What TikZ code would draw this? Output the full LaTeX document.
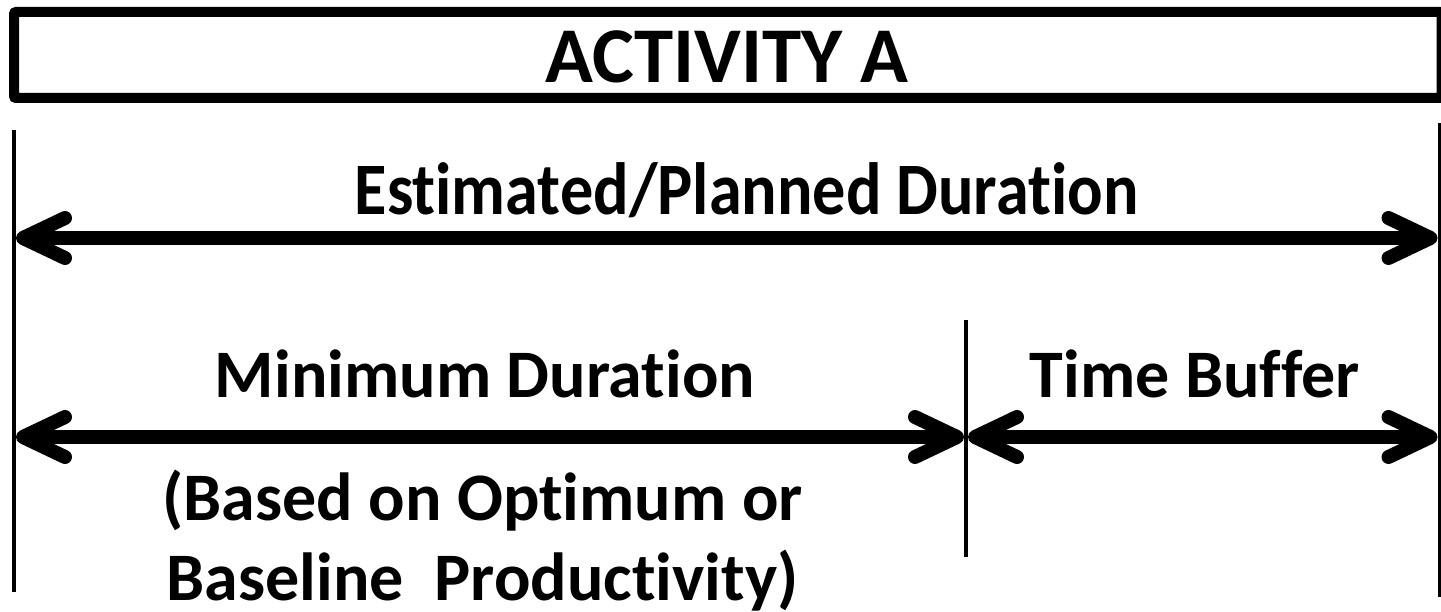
\documentclass[tikz,border=0pt]{standalone}
\usepackage{fontspec}
\usepackage{graphicx}
\setmainfont{Carlito}[Ligatures={NoCommon,NoContextual}, RawFeature={-liga;-clig;-calt;-dlig}]
\usetikzlibrary{arrows.meta}
\begin{document}
\begin{tikzpicture}[x=1pt,y=-1pt,
  framebox/.style={line width=10pt, rounded corners=2pt},
  limit/.style={line width=4pt},
  span/.style={line width=14pt, {Straight Barb[length=42pt,width=40pt,round]}-{Straight Barb[length=42pt,width=40pt,round]}},
  label/.style={inner sep=0pt, anchor=base, font=\bfseries}]
\useasboundingbox (0,0) rectangle (1441,612);

% activity bar
\draw[framebox] (14,12) rectangle (1441.5,98);
\node[label, font=\fontsize{79}{79}\selectfont\bfseries] (act) at (727,83) {ACTIVITY A};

% boundary lines of the activity and the end of the minimum duration
\coordinate (Ltop) at (14,130);
\coordinate (Lbot) at (14,592);
\coordinate (Rtop) at (1439.5,123);
\coordinate (Rbot) at (1439.5,597);
\coordinate (Mtop) at (966,320);
\coordinate (Mbot) at (966,557);
\draw[limit] (Ltop) -- (Lbot);
\draw[limit] (Rtop) -- (Rbot);
\draw[limit] (Mtop) -- (Mbot);

% arrow end points on the boundary lines
\coordinate (a1) at (16,238);
\coordinate (b1) at (1437.5,238);
\coordinate (a2) at (16,437);
\coordinate (m2) at (964,437);
\coordinate (m3) at (968,437);
\coordinate (b3) at (1437.5,437);

\draw[span] (a1) -- (b1);
\draw[span] (a2) -- (m2);
\draw[span] (m3) -- (b3);

\node[label, font=\fontsize{74}{74}\selectfont\bfseries] (est) at (746.5,215) {\scalebox{0.895}[1]{Estimated/Planned Duration}};
\node[label, font=\fontsize{68}{68}\selectfont\bfseries] (min) at (485,398) {Minimum Duration};
\node[label, font=\fontsize{68}{68}\selectfont\bfseries] (buf) at (1195,397) {Time Buffer};
\node[label, font=\fontsize{68}{68}\selectfont\bfseries] (basis1) at (482.5,520) {(Based on Optimum or};
\node[label, font=\fontsize{68}{68}\selectfont\bfseries] (basis2) at (482.5,600) {Baseline\ \ Productivity)};
\end{tikzpicture}
\end{document}
